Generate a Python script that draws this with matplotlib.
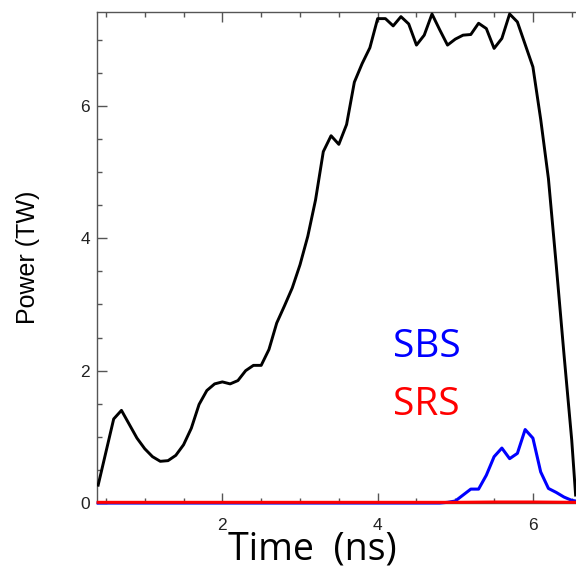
import matplotlib
matplotlib.use("Agg")
from matplotlib import pyplot as plt
from matplotlib.ticker import MultipleLocator

# laser power (black)
t_laser = [0.4, 0.5, 0.6, 0.7, 0.8, 0.9, 1.0, 1.1, 1.2, 1.3, 1.4, 1.5, 1.6, 1.7, 1.8, 1.9,
           2.0, 2.1, 2.2, 2.3, 2.4, 2.5, 2.6, 2.7, 2.8, 2.9, 3.0, 3.1, 3.2, 3.3, 3.4, 3.5,
           3.6, 3.7, 3.8, 3.9, 4.0, 4.1, 4.2, 4.3, 4.4, 4.5, 4.6, 4.7, 4.8, 4.9, 5.0, 5.1,
           5.2, 5.3, 5.4, 5.5, 5.6, 5.7, 5.8, 5.9, 6.0, 6.1, 6.2, 6.3, 6.4, 6.5, 6.55]
p_laser = [0.27, 0.77, 1.27, 1.40, 1.19, 0.98, 0.82, 0.70, 0.63, 0.64, 0.72, 0.88, 1.13, 1.49, 1.70, 1.80,
           1.83, 1.80, 1.85, 2.00, 2.08, 2.08, 2.32, 2.72, 2.98, 3.25, 3.60, 4.03, 4.58, 5.31, 5.55, 5.42,
           5.72, 6.36, 6.64, 6.88, 7.32, 7.32, 7.21, 7.35, 7.24, 6.92, 7.07, 7.39, 7.15, 6.92, 7.01, 7.07,
           7.08, 7.25, 7.17, 6.87, 7.02, 7.39, 7.27, 6.93, 6.59, 5.80, 4.90, 3.60, 2.25, 0.95, 0.12]

# SBS backscatter (blue)
t_sbs = [0.4, 4.8, 4.9, 5.0, 5.1, 5.2, 5.3, 5.4, 5.5, 5.6, 5.7, 5.8, 5.9, 6.0, 6.1, 6.2, 6.3, 6.4, 6.5, 6.55]
p_sbs = [0.0, 0.0, 0.01, 0.03, 0.12, 0.21, 0.21, 0.42, 0.70, 0.83, 0.67, 0.75, 1.11, 0.98, 0.47, 0.22, 0.16, 0.09, 0.04, 0.03]

# SRS backscatter (red)
t_srs = [0.4, 2.0, 4.0, 5.0, 5.5, 6.0, 6.55]
p_srs = [0.01, 0.01, 0.01, 0.01, 0.015, 0.015, 0.01]

fig = plt.figure(figsize=(5.76, 5.68), dpi=100)
ax = fig.add_axes([97/576, 65/568, 1 - 97/576, 491/568])

ax.plot(t_laser, p_laser, color="black", lw=2.1, zorder=3)
ax.plot(t_sbs, p_sbs, color="#0000ff", lw=2.2, zorder=4, clip_on=False)
ax.plot(t_srs, p_srs, color="#ff0000", lw=2.2, zorder=5, clip_on=False)

ax.set_xlim(0.385, 6.555)
ax.set_ylim(0, 7.42)

ax.xaxis.set_major_locator(MultipleLocator(2))
ax.xaxis.set_minor_locator(MultipleLocator(0.5))
ax.yaxis.set_major_locator(MultipleLocator(2))
ax.yaxis.set_minor_locator(MultipleLocator(0.5))

ax.spines["right"].set_visible(False)
for s in ["left", "top", "bottom"]:
    ax.spines[s].set_color("#555555")
    ax.spines[s].set_linewidth(1.0)

ax.tick_params(which="both", direction="in", top=True, right=False, color="#555555", width=1.0)
ax.tick_params(which="major", length=7)
ax.tick_params(which="minor", length=3.5)
ax.tick_params(axis="x", which="major", pad=11)
ax.tick_params(axis="y", which="major", pad=5)
for lab in ax.get_xticklabels() + ax.get_yticklabels():
    lab.set_family("Liberation Sans")
    lab.set_fontsize(12.5)
    lab.set_color("#222222")

ax.set_ylabel("Power (TW)", family="Liberation Sans", fontsize=18)
ax.yaxis.set_label_coords(-0.12, 0.5)

ax.set_xlabel("Time  (ns)", family="Open Sans", fontsize=27)
ax.xaxis.set_label_coords(0.449, -0.116)
ax.xaxis.label.set_va("baseline")

ax.text(393/576, (568-347)/568, "SBS", transform=fig.transFigure, color="#0000ff",
        family="Open Sans", fontsize=28, va="center", ha="left")
ax.text(393/576, (568-405)/568, "SRS", transform=fig.transFigure, color="#ff0000",
        family="Open Sans", fontsize=28, va="center", ha="left")

fig.savefig("out.png", dpi=100)
